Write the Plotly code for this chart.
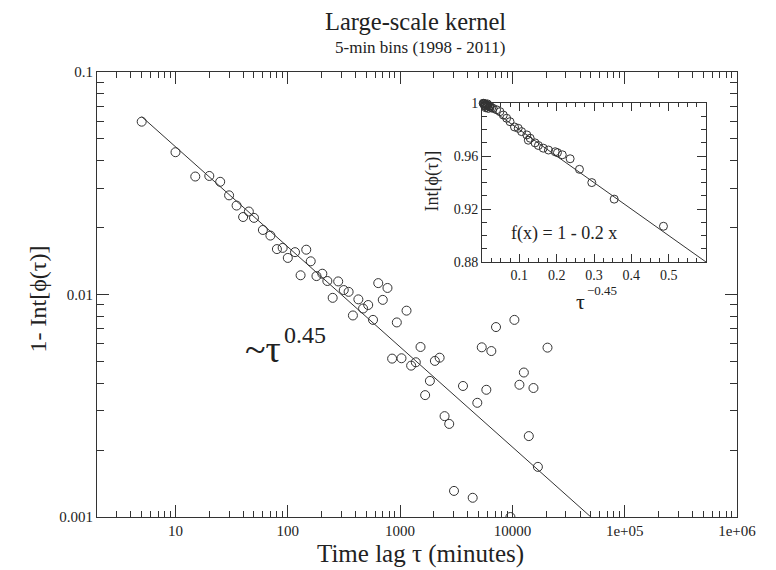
import numpy as np
import plotly.graph_objects as go

# ---------------- data ----------------
tau_main = [5, 10, 15, 20, 25, 30, 35, 40, 45, 50, 60, 70, 80, 90, 100, 116, 130, 146, 160, 180,
            203, 225, 251, 281, 315, 348, 380, 425, 468, 520, 574, 639, 701, 772, 849, 935, 1029,
            1141, 1254, 1380, 1520, 1671, 1842, 2041, 2249, 2489, 2738, 3020, 3631, 4430, 4870,
            5335, 5861, 6494, 7145, 9600, 10420, 11550, 12650, 14000, 15400, 16870, 20540]
one_minus_int = [0.0598, 0.0436, 0.0339, 0.0341, 0.0321, 0.0279, 0.0251, 0.0223, 0.0236, 0.0221,
                 0.0195, 0.0184, 0.0160, 0.0162, 0.0146, 0.0155, 0.0122, 0.0159, 0.0141, 0.0121,
                 0.0124, 0.0115, 0.00966, 0.01145, 0.01047, 0.01028, 0.00805, 0.00951, 0.00865,
                 0.00897, 0.00769, 0.01125, 0.00946, 0.0107, 0.00515, 0.00749, 0.00517, 0.00846,
                 0.00479, 0.00496, 0.00581, 0.00353, 0.00409, 0.00503, 0.0052, 0.00284, 0.00262,
                 0.00131, 0.00388, 0.00122, 0.00326, 0.00579, 0.00373, 0.00557, 0.00714, 0.00100,
                 0.00769, 0.00393, 0.00446, 0.00231, 0.0038, 0.00168, 0.00577]

fit_tau = [5, 50000]
fit_val = [0.063, 0.001]

inset_x = [0.486, 0.354, 0.294, 0.261, 0.236, 0.215, 0.202, 0.196, 0.178, 0.164, 0.151, 0.142,
           0.129, 0.124, 0.120, 0.106, 0.097, 0.087, 0.075, 0.066, 0.057, 0.048, 0.039, 0.030,
           0.026, 0.022, 0.019, 0.016, 0.013, 0.011, 0.009, 0.007, 0.005, 0.004, 0.003, 0.012,
           0.017, 0.021, 0.008, 0.006, 0.014, 0.010]
inset_y = [0.907, 0.9275, 0.940, 0.950, 0.958, 0.961, 0.9626, 0.9633, 0.9646, 0.966, 0.968, 0.970,
           0.9735, 0.972, 0.976, 0.9785, 0.981, 0.982, 0.986, 0.9886, 0.991, 0.9936, 0.995, 0.996,
           0.9965, 0.997, 0.9975, 0.998, 0.9985, 0.999, 0.9992, 0.9995, 0.9997, 0.9998, 0.9999,
           0.997, 0.996, 0.998, 0.998, 0.9985, 0.9995, 0.9965]

inset_fit_x = [0.0, 0.6]
inset_fit_y = [1.0, 0.88]

x_tickvals = [10, 100, 1000, 10000, 100000, 1000000]
x_ticktext = ["10", "100", "1000", "10000", "1e+05", "1e+06"]
y_tickvals = [0.001, 0.01, 0.1]
y_ticktext = ["0.001", "0.01", "0.1"]
ix_tickvals = [0.1, 0.2, 0.3, 0.4, 0.5]
ix_ticktext = ["0.1", "0.2", "0.3", "0.4", "0.5"]
iy_tickvals = [0.88, 0.92, 0.96, 1.0]
iy_ticktext = ["0.88", "0.92", "0.96", "1"]

# ---------------- figure ----------------
FONT = "Liberation Serif, Times New Roman, serif"
INK = "#222"
AX = "#333"

x_minor = [m * 10 ** d for d in range(0, 6) for m in range(2, 10)]
y_minor = [m * 10 ** d for d in (-3, -2) for m in range(2, 10)]
ix_minor = list(np.round(np.arange(0.025, 0.6, 0.025), 3))
iy_minor = list(np.round(np.arange(0.89, 1.0, 0.01), 3))

fig = go.Figure()
fig.add_trace(go.Scatter(x=fit_tau, y=fit_val, mode="lines",
                         line=dict(color=AX, width=1), showlegend=False))
fig.add_trace(go.Scatter(x=tau_main, y=one_minus_int, mode="markers",
                         marker=dict(symbol="circle-open", size=9, color=AX, line=dict(width=1)),
                         showlegend=False))
fig.add_trace(go.Scatter(x=inset_fit_x, y=inset_fit_y, mode="lines", xaxis="x2", yaxis="y2",
                         line=dict(color=AX, width=1), showlegend=False))
fig.add_trace(go.Scatter(x=inset_x, y=inset_y, mode="markers", xaxis="x2", yaxis="y2",
                         cliponaxis=False,
                         marker=dict(symbol="circle-open", size=8, color=AX, line=dict(width=1)),
                         showlegend=False))

axis_common = dict(showline=True, linecolor=AX, linewidth=1, mirror="ticks", ticks="inside",
                   tickcolor=AX, showgrid=False, zeroline=False)

# page body has an 8px margin, so the figure is 8px smaller than the window
fig.update_layout(
    width=768, height=562, autosize=False,
    margin=dict(l=89, r=39, t=64, b=53),
    paper_bgcolor="white", plot_bgcolor="white",
    font=dict(family=FONT, color=INK),
    xaxis=dict(type="log", range=[np.log10(2), 6], tickmode="array",
               tickvals=x_tickvals, ticktext=x_ticktext, ticklen=12,
               tickfont=dict(size=15, family=FONT, color=INK),
               minor=dict(tickvals=x_minor, ticks="inside", ticklen=6, tickcolor=AX),
               **axis_common),
    yaxis=dict(type="log", range=[-3, -1], tickmode="array",
               tickvals=y_tickvals, ticktext=y_ticktext, ticklen=12,
               tickfont=dict(size=15, family=FONT, color=INK),
               minor=dict(tickvals=y_minor, ticks="inside", ticklen=7, tickcolor=AX),
               **axis_common),
    xaxis2=dict(domain=[0.6016, 0.9516], anchor="y2", range=[0, 0.6], tickmode="array",
                tickvals=ix_tickvals, ticktext=ix_ticktext, ticklen=8,
                tickfont=dict(size=14, family=FONT, color=INK),
                minor=dict(tickvals=ix_minor, ticks="inside", ticklen=4, tickcolor=AX),
                **axis_common),
    yaxis2=dict(domain=[0.573, 0.930], anchor="x2", range=[0.88, 1.0], tickmode="array",
                tickvals=iy_tickvals, ticktext=iy_ticktext, ticklen=9,
                tickfont=dict(size=14, family=FONT, color=INK),
                minor=dict(tickvals=iy_minor, ticks="inside", ticklen=5, tickcolor=AX),
                **axis_common),
)

ann = [
    dict(text="Large-scale kernel", x=0.497, y=1.113, size=24.5),
    dict(text="5-min bins (1998 - 2011)", x=0.505, y=1.054, size=17),
    dict(text="Time lag τ (minutes)", x=0.505, y=-0.083, size=25),
    dict(text="1- Int[ϕ(τ)]", x=-0.093, y=0.49, size=24, angle=-90),
    dict(text="~τ", x=0.2906, y=0.3775, size=38, xa="right"),
    dict(text="0.45", x=0.289, y=0.409, size=24, xa="left"),
    dict(text="Int[ϕ(τ)]", x=0.524, y=0.755, size=18, angle=-90),
    dict(text="τ", x=0.7547, y=0.484, size=22),
    dict(text="−0.45", x=0.762, y=0.508, size=13, xa="left"),
    dict(text="f(x) = 1 - 0.2 x", x=0.730, y=0.638, size=18),
]
for a in ann:
    fig.add_annotation(text=a["text"], x=a["x"], y=a["y"], xref="paper", yref="paper",
                       xanchor=a.get("xa", "center"), yanchor="middle", showarrow=False,
                       textangle=a.get("angle", 0),
                       font=dict(family=FONT, size=a["size"], color=INK))

fig.write_html("out.html")
